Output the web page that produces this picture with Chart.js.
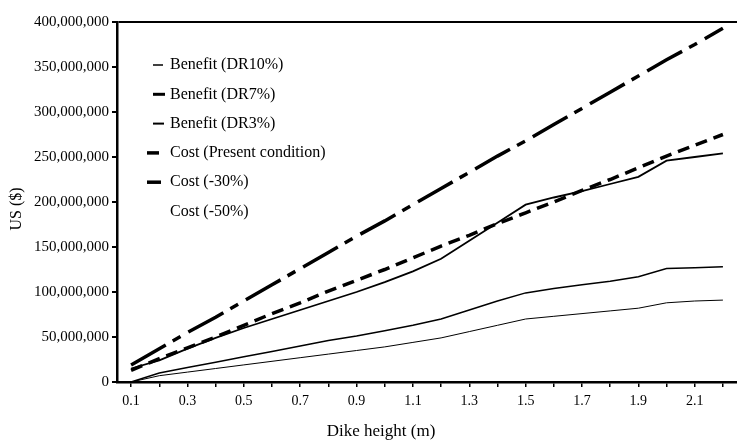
<!DOCTYPE html>
<html>
<head>
<meta charset="utf-8">
<script src="https://cdn.jsdelivr.net/npm/chart.js@4.4.1/dist/chart.umd.min.js"></script>
<style>
  html, body { margin: 0; padding: 0; background: #fff; }
  #wrap { width: 737px; height: 448px; }
</style>
</head>
<body>
<div id="wrap"><canvas id="c" width="737" height="448"></canvas></div>
<script>
// dike heights (m)
const heights = ["0.1","0.2","0.3","0.4","0.5","0.6","0.7","0.8","0.9","1.0","1.1",
                 "1.2","1.3","1.4","1.5","1.6","1.7","1.8","1.9","2.0","2.1","2.2"];

// values in million US$
const benefitDR10 = [0, 7, 11, 15, 19, 23, 27, 31, 35, 39, 44, 49, 56, 63, 70, 73, 76, 79, 82, 88, 90, 91];
const benefitDR7  = [0, 10, 16, 22, 28, 34, 40, 46, 51, 57, 63, 70, 80, 90, 99, 104, 108, 112, 117, 126, 127, 128];
const benefitDR3  = [15, 24, 37, 49, 60, 70, 80, 90, 100, 111, 123, 137, 157, 177, 197, 205, 212, 220, 228, 246, 250, 254];
const costPresent = [19, 37, 55, 72, 90, 108, 126, 144, 162, 179, 197, 215, 233, 251, 268, 286, 304, 322, 340, 358, 375, 393];
const cost30      = [13, 26, 38, 50, 63, 76, 88, 101, 113, 125, 138, 151, 163, 176, 188, 200, 213, 225, 238, 251, 263, 275];
const cost50      = []; // listed in the legend, no line drawn

const yMax = 400000000;
const yStep = 50000000;
const xTitle = "Dike height (m)";
const yTitle = "US ($)";

const toUSD = arr => arr.map(v => v * 1e6);

const SERIF = "'Liberation Serif', 'Times New Roman', serif";
Chart.defaults.font.family = SERIF;
Chart.defaults.font.size = 14;
Chart.defaults.color = "#000";

// legend inside the plot + axis titles placed like the original figure
const insideLegend = {
  id: "insideLegend",
  afterDatasetsDraw(chart) {
    const ctx = chart.ctx;
    ctx.save();
    ctx.font = "16px " + SERIF;
    ctx.fillStyle = "#000";
    ctx.textBaseline = "middle";
    chart.data.datasets.forEach((ds, i) => {
      const y = 65 + i * 29.3;
      if (ds.borderWidth > 0) {
        ctx.beginPath();
        ctx.setLineDash([]);
        ctx.lineWidth = ds.legendWidth || ds.borderWidth;
        ctx.strokeStyle = "#000";
        ctx.moveTo(ds.legendX, y);
        ctx.lineTo(ds.legendX + ds.legendLen, y);
        ctx.stroke();
      }
      ctx.fillText(ds.label, 170, y);
    });

    ctx.font = "17px " + SERIF;
    ctx.textAlign = "center";
    ctx.fillText(xTitle, 381, 432);

    ctx.font = "16px " + SERIF;
    ctx.translate(17, 209);
    ctx.rotate(-Math.PI / 2);
    ctx.fillText(yTitle, 0, 0);
    ctx.restore();
  }
};

new Chart(document.getElementById("c"), {
  type: "line",
  data: {
    labels: heights,
    datasets: [
      { label: "Benefit (DR10%)", data: toUSD(benefitDR10), borderColor: "#000", borderWidth: 1,
        legendX: 153, legendLen: 10, legendWidth: 1.5 },
      { label: "Benefit (DR7%)", data: toUSD(benefitDR7), borderColor: "#000", borderWidth: 1.5,
        legendX: 153, legendLen: 12, legendWidth: 3 },
      { label: "Benefit (DR3%)", data: toUSD(benefitDR3), borderColor: "#000", borderWidth: 1.8,
        legendX: 153, legendLen: 11, legendWidth: 2 },
      { label: "Cost (Present condition)", data: toUSD(costPresent), borderColor: "#000", borderWidth: 3.5,
        borderDash: [40, 8, 9, 9], legendX: 147, legendLen: 12, legendWidth: 3.5 },
      { label: "Cost (-30%)", data: toUSD(cost30), borderColor: "#000", borderWidth: 3.5,
        borderDash: [12, 7], legendX: 147, legendLen: 14, legendWidth: 3.5 },
      { label: "Cost (-50%)", data: toUSD(cost50), borderColor: "#000", borderWidth: 0,
        legendX: 147, legendLen: 0 }
    ]
  },
  options: {
    responsive: false,
    animation: false,
    layout: { padding: { top: 22, right: 0, left: 0, bottom: 0 } },
    elements: { point: { radius: 0 }, line: { tension: 0, borderCapStyle: "butt" } },
    plugins: { legend: { display: false }, tooltip: { enabled: false } },
    scales: {
      x: {
        type: "category",
        offset: true,
        grid: { display: true, drawOnChartArea: false, tickLength: 5, tickColor: "#000", lineWidth: 1.5, offset: false },
        border: { display: true, color: "#000", width: 2.5 },
        ticks: {
          autoSkip: false, maxRotation: 0, padding: 6,
          callback: (v, i) => (i % 2 === 0 ? heights[i] : "")
        },
        afterFit: s => { s.height = 66; }
      },
      y: {
        min: 0, max: yMax,
        ticks: { stepSize: yStep, padding: 3, font: { size: 15 }, callback: v => v.toLocaleString("en-US") },
        grid: {
          drawTicks: true, tickLength: 5, tickColor: "#000", lineWidth: 2,
          color: c => (c.tick && c.tick.value === yMax ? "#000" : "rgba(0,0,0,0)")
        },
        border: { display: true, color: "#000", width: 2.5 },
        afterFit: s => { s.width = 117; }
      }
    }
  },
  plugins: [insideLegend]
});
</script>
</body>
</html>
